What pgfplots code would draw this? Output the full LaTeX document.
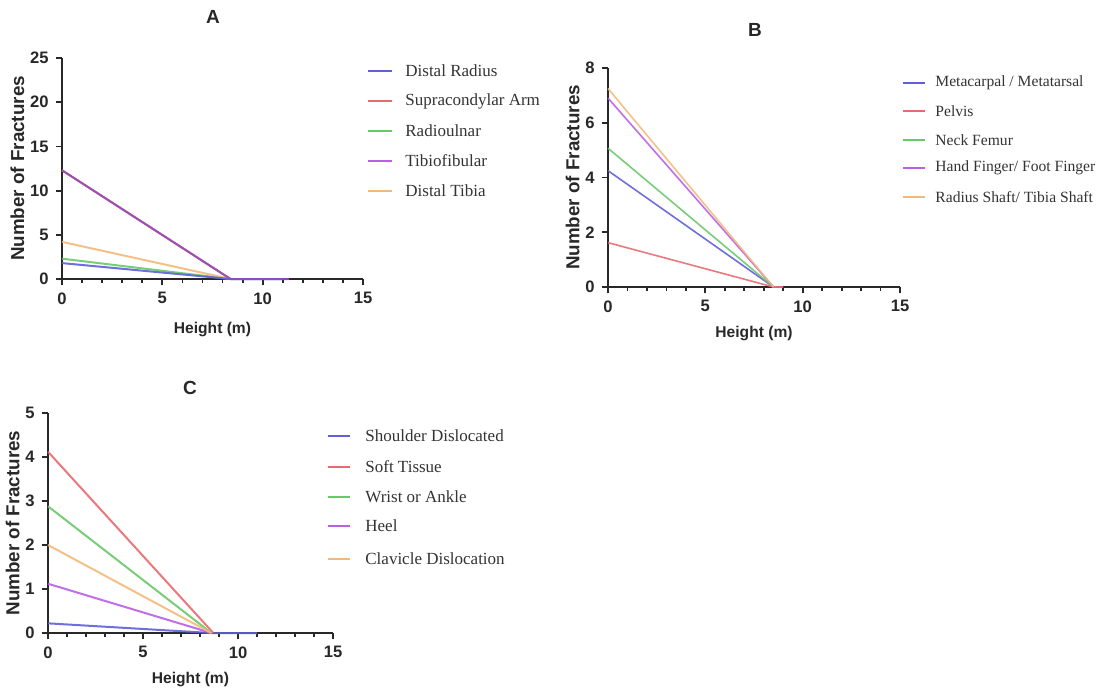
\documentclass[border=0pt]{standalone}
\usepackage{pgfplots}
\pgfplotsset{compat=1.18}
\usepackage{fontspec}
\setmainfont{Liberation Sans}
\newfontfamily\legfont{Liberation Serif}

\definecolor{cblue}{RGB}{95,95,215}
\definecolor{cred}{RGB}{232,105,110}
\definecolor{cgreen}{RGB}{105,200,105}
\definecolor{cpurple}{RGB}{185,95,230}
\definecolor{corange}{RGB}{242,185,120}
\definecolor{axgray}{RGB}{40,40,40}

\pgfplotsset{
  panel/.style={
    scale only axis, anchor=south west, clip=false,
    axis lines=left, axis line style={-, axgray, line width=1.1pt},
    xmin=0, xmax=15, ymin=0,
    xtick={0,5,10,15}, minor x tick num=4,
    tick align=outside,
    major tick length=3.2pt, minor tick length=2pt,
    every tick/.style={axgray, line width=0.9pt},
    /pgf/number format/assume math mode=true,
    tick label style={font=\bfseries\fontsize{8.3}{9}\selectfont, text=axgray},
    xlabel={Height (m)}, ylabel={Number of Fractures},
    xlabel style={font=\bfseries\fontsize{7.8}{9}\selectfont, text=axgray},
    ylabel style={font=\bfseries\fontsize{9.4}{10}\selectfont, text=axgray},
    ylabel shift=-4pt,
  },
  ln/.style={line width=1pt, opacity=0.9},
}

\begin{document}
\begin{tikzpicture}[x=0.5pt, y=0.5pt]
\path[use as bounding box] (0,0) rectangle (1106,693);

% ---------------- Panel A ----------------
\begin{axis}[panel, at={(31pt,207pt)}, width=150.5pt, height=110.5pt,
    ymax=25, ytick={0,5,10,15,20,25}, xlabel shift=2pt]
\addplot[ln, cred] coordinates {(0,12.3) (8.4,0)};
\addplot[ln, cgreen] coordinates {(0,2.3) (8.4,0)};
\addplot[ln, corange] coordinates {(0,4.2) (8.4,0)};
\addplot[ln, cblue] coordinates {(0,1.8) (8.4,0) (11,0)};
\addplot[ln, cpurple!80!black] coordinates {(0,12.3) (8.4,0) (11.3,0)};
\end{axis}

% ---------------- Panel B ----------------
\begin{axis}[panel, at={(304pt,203pt)}, width=146pt, height=109.5pt,
    ymax=8, ytick={0,2,4,6,8}]
\addplot[ln, cblue, line width=0.8pt] coordinates {(0,4.25) (8.5,0) (9,0)};
\addplot[ln, cred, line width=0.8pt] coordinates {(0,1.62) (8.5,0) (9,0)};
\addplot[ln, cgreen, line width=0.8pt] coordinates {(0,5.07) (8.5,0)};
\addplot[ln, cpurple, line width=0.8pt] coordinates {(0,6.9) (8.5,0)};
\addplot[ln, corange, line width=0.8pt] coordinates {(0,7.25) (8.5,0)};
\end{axis}

% ---------------- Panel C ----------------
\begin{axis}[panel, at={(24pt,30pt)}, width=142.5pt, height=110pt,
    ymax=5, ytick={0,1,2,3,4,5}]
\addplot[ln, cblue] coordinates {(0,0.22) (8.6,0) (11,0)};
\addplot[ln, cred] coordinates {(0,4.12) (8.7,0)};
\addplot[ln, cgreen] coordinates {(0,2.88) (8.6,0)};
\addplot[ln, cpurple] coordinates {(0,1.12) (8.6,0)};
\addplot[ln, corange] coordinates {(0,2.0) (8.6,0)};
\end{axis}

% ---------------- Titles ----------------
\begin{scope}[every node/.style={font=\bfseries\fontsize{9.5}{10}\selectfont, text=axgray}]
\node at (213,676) {A};
\node at (755,663) {B};
\node at (190,305) {C};
\end{scope}

% ---------------- Legends ----------------
\begin{scope}[every node/.style={anchor=west, font=\legfont\fontsize{8.5}{9}\selectfont, text=black!80, inner sep=0pt}]
\draw[cblue, line width=1pt] (368,622) -- (392,622); \node at (405,622) {Distal Radius};
\draw[cred, line width=1pt] (368,592) -- (392,592); \node at (405,592) {Supracondylar Arm};
\draw[cgreen, line width=1pt] (368,562) -- (392,562); \node at (405,562) {Radioulnar};
\draw[cpurple, line width=1pt] (368,532) -- (392,532); \node at (405,532) {Tibiofibular};
\draw[corange, line width=1pt] (368,502) -- (392,502); \node at (405,502) {Distal Tibia};

\draw[cblue, line width=1pt] (328,257) -- (350,257); \node at (365,257) {Shoulder Dislocated};
\draw[cred, line width=1pt] (328,226) -- (350,226); \node at (365,226) {Soft Tissue};
\draw[cgreen, line width=1pt] (328,196) -- (350,196); \node at (365,196) {Wrist or Ankle};
\draw[cpurple, line width=1pt] (328,167) -- (350,167); \node at (365,167) {Heel};
\draw[corange, line width=1pt] (328,134) -- (350,134); \node at (365,134) {Clavicle Dislocation};
\end{scope}
\begin{scope}[every node/.style={anchor=west, font=\legfont\fontsize{7.8}{9}\selectfont, text=black!80, inner sep=0pt}]
\draw[cblue, line width=1pt] (903,610) -- (925,610); \node at (935,610) {Metacarpal / Metatarsal};
\draw[cred, line width=1pt] (903,582) -- (925,582); \node at (935,582) {Pelvis};
\draw[cgreen, line width=1pt] (903,553) -- (925,553); \node at (935,553) {Neck Femur};
\draw[cpurple, line width=1pt] (903,525) -- (925,525); \node at (935,525) {Hand Finger/ Foot Finger};
\draw[corange, line width=1pt] (903,496) -- (925,496); \node at (935,496) {Radius Shaft/ Tibia Shaft};
\end{scope}
\end{tikzpicture}
\end{document}
